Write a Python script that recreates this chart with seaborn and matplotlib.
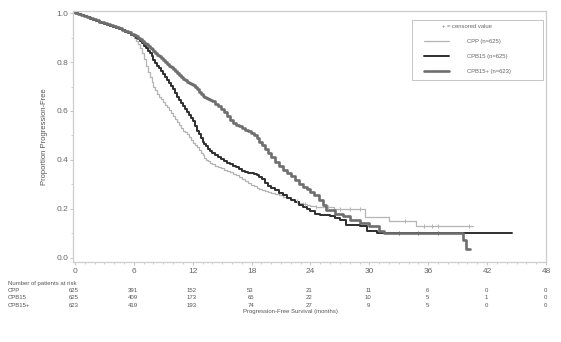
import matplotlib
matplotlib.use("Agg")
import matplotlib.pyplot as plt
from matplotlib.patches import Rectangle
import numpy as np
import pandas as pd
import seaborn as sns

# Kaplan-Meier step estimates: shared early time grid (months) up to 24,
# followed by each arm's own tail of steps.
early_months = [0, 0.3, 0.6, 0.9, 1.2, 1.5, 1.8, 2.1, 2.4, 2.7, 3.0, 3.3, 3.6, 3.9, 4.2,
                4.5, 4.8, 5.1, 5.4, 5.7, 6.0,
                6.2, 6.4, 6.6, 6.8, 7.0, 7.2, 7.4, 7.6, 7.8, 8.0,
                8.2, 8.4, 8.6, 8.8, 9.0, 9.2, 9.4, 9.6, 9.8, 10.0,
                10.2, 10.4, 10.6, 10.8, 11.0, 11.2, 11.4, 11.6, 11.8, 12.0,
                12.2, 12.4, 12.6, 12.8, 13.0, 13.2, 13.4, 13.6, 13.8, 14.0,
                14.3, 14.6, 14.9, 15.2, 15.5, 15.8, 16.1, 16.4, 16.7, 17.0,
                17.3, 17.6, 17.9, 18.2, 18.5, 18.8, 19.1, 19.4, 19.7, 20.0,
                20.4, 20.8, 21.2, 21.6, 22.0, 22.4, 22.8, 23.2, 23.6, 24.0]

cpp_early = [1.0, 0.997, 0.993, 0.989, 0.985, 0.980, 0.976, 0.972, 0.968, 0.964, 0.960,
             0.956, 0.952, 0.948, 0.943, 0.938, 0.932, 0.926, 0.919, 0.910, 0.898,
             0.886, 0.872, 0.856, 0.838, 0.812, 0.786, 0.760, 0.738, 0.718, 0.700,
             0.686, 0.670, 0.658, 0.648, 0.636, 0.626, 0.616, 0.604, 0.592, 0.580,
             0.566, 0.554, 0.543, 0.531, 0.520, 0.512, 0.504, 0.494, 0.482, 0.470,
             0.461, 0.452, 0.441, 0.430, 0.418, 0.409, 0.400, 0.394, 0.388, 0.382,
             0.376, 0.371, 0.366, 0.360, 0.355, 0.350, 0.344, 0.338, 0.331, 0.322,
             0.314, 0.306, 0.298, 0.291, 0.286, 0.281, 0.277, 0.272, 0.268, 0.264,
             0.260, 0.255, 0.250, 0.244, 0.236, 0.230, 0.225, 0.221, 0.217, 0.213]
cpp_tail_months = [24.6, 25.4, 26.4, 29.6, 32.0, 34.8, 40.6]
cpp_tail = [0.209, 0.205, 0.200, 0.166, 0.150, 0.130, 0.130]

cpb15_early = [1.0, 0.997, 0.993, 0.988, 0.983, 0.978, 0.973, 0.968, 0.963, 0.958, 0.954,
               0.950, 0.946, 0.942, 0.938, 0.934, 0.930, 0.925, 0.919, 0.912, 0.905,
               0.899, 0.893, 0.886, 0.878, 0.866, 0.856, 0.846, 0.836, 0.823, 0.810,
               0.798, 0.786, 0.774, 0.762, 0.750, 0.738, 0.726, 0.714, 0.702, 0.690,
               0.674, 0.658, 0.644, 0.632, 0.620, 0.608, 0.596, 0.584, 0.572, 0.560,
               0.540, 0.520, 0.504, 0.490, 0.475, 0.465, 0.455, 0.446, 0.438, 0.430,
               0.421, 0.412, 0.404, 0.396, 0.388, 0.382, 0.376, 0.370, 0.363, 0.356,
               0.352, 0.348, 0.345, 0.342, 0.339, 0.331, 0.320, 0.306, 0.294, 0.286,
               0.276, 0.266, 0.255, 0.244, 0.236, 0.226, 0.214, 0.205, 0.197, 0.190]
cpb15_tail_months = [24.5, 25.0, 26.0, 26.5, 27.0, 27.6, 29.0, 29.8, 30.8, 44.5]
cpb15_tail = [0.180, 0.175, 0.170, 0.160, 0.155, 0.135, 0.130, 0.110, 0.100, 0.100]

cpb15p_early = [1.0, 0.997, 0.994, 0.990, 0.986, 0.981, 0.976, 0.971, 0.966, 0.962, 0.958,
                0.954, 0.950, 0.946, 0.942, 0.938, 0.933, 0.928, 0.922, 0.916, 0.910,
                0.905, 0.899, 0.893, 0.887, 0.880, 0.873, 0.866, 0.859, 0.852, 0.845,
                0.838, 0.831, 0.824, 0.817, 0.810, 0.802, 0.794, 0.786, 0.778, 0.770,
                0.762, 0.754, 0.746, 0.738, 0.730, 0.725, 0.720, 0.715, 0.710, 0.705,
                0.697, 0.688, 0.679, 0.670, 0.660, 0.656, 0.652, 0.648, 0.644, 0.640,
                0.630, 0.619, 0.608, 0.596, 0.580, 0.563, 0.552, 0.544, 0.537, 0.530,
                0.523, 0.516, 0.509, 0.500, 0.488, 0.474, 0.460, 0.445, 0.428, 0.410,
                0.392, 0.374, 0.360, 0.347, 0.333, 0.318, 0.302, 0.290, 0.280, 0.270]
cpb15p_tail_months = [24.4, 24.9, 25.3, 25.6, 26.5, 27.3, 28.0, 29.0, 30.0, 31.0, 31.5,
                      39.5, 39.8, 40.3]
cpb15p_tail = [0.255, 0.235, 0.215, 0.195, 0.180, 0.170, 0.155, 0.140, 0.130, 0.110,
               0.100, 0.070, 0.035, 0.035]

# Censoring times shown as tick marks on the curves
cpp_censor = [22.6, 23.4, 24.6, 25.8, 27.0, 28.0, 29.0, 33.6, 35.6, 36.4, 37.0, 40.2]
cpb15p_censor = [33.0, 35.0, 37.0]

arm_names = ["CPP (n=625)", "CPB15 (n=625)", "CPB15+ (n=623)"]
arm_short = ["CPP", "CPB15", "CPB15+"]
risk_months = [0, 6, 12, 18, 24, 30, 36, 42, 48]
risk_cpp = [625, 391, 152, 53, 21, 11, 6, 0, 0]
risk_cpb15 = [625, 409, 173, 65, 22, 10, 5, 1, 0]
risk_cpb15p = [623, 419, 193, 74, 27, 9, 5, 0, 0]

sns.set_theme(style="white")
plt.rcParams["font.family"] = ["Liberation Sans", "DejaVu Sans"]

arm_times = [early_months + cpp_tail_months, early_months + cpb15_tail_months,
             early_months + cpb15p_tail_months]
arm_surv = [cpp_early + cpp_tail, cpb15_early + cpb15_tail, cpb15p_early + cpb15p_tail]

frames = []
for name, t, s in zip(arm_names, arm_times, arm_surv):
    frames.append(pd.DataFrame({"Months": t, "Survival": s, "Arm": name}))
df = pd.concat(frames, ignore_index=True)

palette = {arm_names[0]: "#b4b4b4", arm_names[1]: "#2e2e2e", arm_names[2]: "#6e6e6e"}
widths = {arm_names[0]: 0.9, arm_names[1]: 1.4, arm_names[2]: 1.9}

fig = plt.figure(figsize=(5.61, 3.42), dpi=100)
ax = fig.add_axes([73 / 561, 1 - 262 / 342, (546 - 73) / 561, (262 - 11) / 342])

for name in arm_names:
    sub = df[df["Arm"] == name]
    sns.lineplot(data=sub, x="Months", y="Survival", ax=ax, color=palette[name],
                 lw=widths[name], drawstyle="steps-post", label=name,
                 estimator=None, sort=False)

def step_value(times, surv, t):
    idx = np.searchsorted(times, t, side="right") - 1
    return surv[max(idx, 0)]

for cens, times, surv, name in [(cpp_censor, arm_times[0], arm_surv[0], arm_names[0]),
                                (cpb15p_censor, arm_times[2], arm_surv[2], arm_names[2])]:
    ys = [step_value(times, surv, c) for c in cens]
    ax.scatter(cens, ys, marker="|", s=9, color=palette[name], linewidths=0.7, zorder=3)

ax.set_xlim(-0.2, 48)
ax.set_ylim(-0.018, 1.009)
ax.set_xticks(risk_months)
ax.set_xticks(np.arange(0, 49, 1), minor=True)
ax.set_yticks([0.0, 0.2, 0.4, 0.6, 0.8, 1.0])
ax.set_yticks([0.1, 0.3, 0.5, 0.7, 0.9], minor=True)
ax.set_yticklabels(["0.0", "0.2", "0.4", "0.6", "0.8", "1.0"])
ax.tick_params(axis="both", which="both", direction="out", colors="#bdbdbd",
               labelcolor="#666666", labelsize=6)
ax.tick_params(which="major", length=2.5, width=0.6, bottom=True, left=True)
ax.tick_params(which="minor", length=1.5, width=0.5, bottom=True, left=True)
ax.tick_params(axis="x", pad=2)
ax.tick_params(axis="y", pad=1)
for sp in ax.spines.values():
    sp.set_color("#cccccc")
    sp.set_linewidth(0.9)

ax.set_xlabel("")
ax.set_ylabel("Proportion Progression-Free", fontsize=5.5, color="#555555", labelpad=6)

# Legend: framed box with the entries set in from its left edge
ax.add_patch(Rectangle((0.717, 0.725), 0.277, 0.239, transform=ax.transAxes,
                       facecolor="white", edgecolor="#bbbbbb", lw=0.6, zorder=4))
handles, labels = ax.get_legend_handles_labels()
leg = ax.legend(handles, labels, title="+ = censored value", loc="upper left",
                bbox_to_anchor=((423 - 73) / 473, 0.952), fontsize=4.2,
                title_fontsize=4.2, frameon=False, borderpad=0.2, labelspacing=1.7,
                handlelength=4.3, handletextpad=3.0, borderaxespad=0.0)
leg.set_zorder(5)
for txt in leg.get_texts():
    txt.set_color("#666666")
leg.get_title().set_color("#666666")

# Number-at-risk table under the axis
def fig_y(py):
    return 1 - py / 342

fig.text(8 / 561, fig_y(283), "Number of patients at risk", fontsize=4.3,
         color="#555555", va="center", ha="left")
for row, (label, counts) in enumerate(zip(arm_short, [risk_cpp, risk_cpb15, risk_cpb15p])):
    y = fig_y(290.5 + row * 7.3)
    fig.text(8 / 561, y, label, fontsize=4.3, color="#555555", va="center", ha="left")
    for m, c in zip(risk_months, counts):
        xd = ax.transData.transform((m, 0))[0]
        fig.text((xd - 1) / 561, y, str(c), fontsize=4.3, color="#555555",
                 va="center", ha="center")
fig.text(290 / 561, fig_y(312), "Progression-Free Survival (months)", fontsize=4.3,
         color="#555555", va="center", ha="center")

fig.savefig("out.png", dpi=100)
